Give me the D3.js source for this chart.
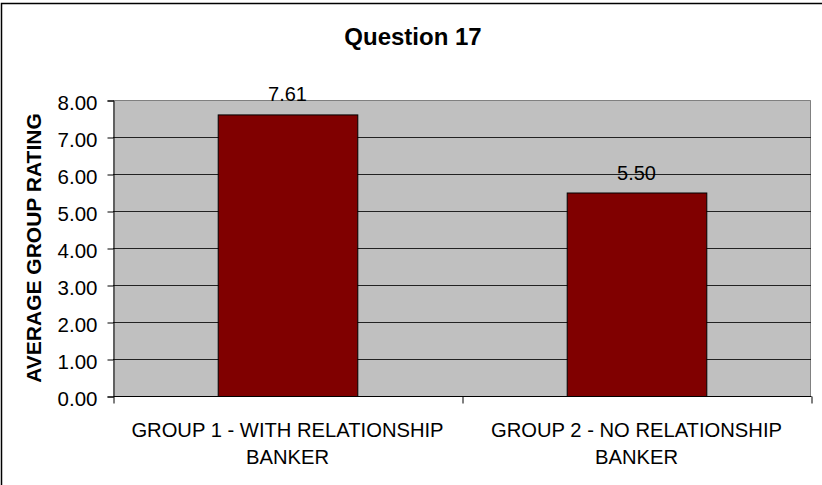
<!DOCTYPE html>
<html><head><meta charset="utf-8">
<script src="https://cdn.jsdelivr.net/npm/d3@7"></script>
<style>body{margin:0;background:#fff}svg{display:block}text{font-family:"Liberation Sans",Arial,sans-serif}</style>
</head><body>
<svg id="c" width="822" height="485"></svg>
<script>
const title = "Question 17";
const yTitle = "AVERAGE GROUP RATING";
const categories = [["GROUP 1 - WITH RELATIONSHIP","BANKER"],["GROUP 2 - NO RELATIONSHIP","BANKER"]];
const values = [7.61, 5.50];
const yTicks = [0,1,2,3,4,5,6,7,8];

const svg = d3.select("#c");
const m = {l:113, r:811, t:100, b:396};
svg.append("rect").attr("x",1.5).attr("y",3.5).attr("width",830).attr("height",500)
  .attr("fill","#fff").attr("stroke","#000").attr("stroke-width",1.5);

const x = d3.scaleBand().domain(d3.range(categories.length)).range([m.l,m.r]).paddingInner(0.6).paddingOuter(0.3);
const y = d3.scaleLinear().domain([0,8]).range([m.b,m.t]);

svg.append("rect").attr("x",m.l).attr("y",m.t).attr("width",m.r-m.l).attr("height",m.b-m.t).attr("fill","#c0c0c0");
svg.append("path").attr("d",`M${m.l},${m.t+0.5}H${m.r-0.5}V${m.b}`).attr("fill","none").attr("stroke","#808080").attr("stroke-width",1);

// gridlines
svg.append("g").selectAll("line").data(yTicks.filter(d=>d>0 && d<8)).join("line")
  .attr("x1",m.l).attr("x2",m.r).attr("y1",d=>Math.round(y(d))+0.5).attr("y2",d=>Math.round(y(d))+0.5)
  .attr("stroke","#222").attr("stroke-width",1);

// y axis
const ya = d3.axisLeft(y).tickValues(yTicks).tickFormat(d3.format(".2f")).tickSize(6).tickPadding(10);
const gy = svg.append("g").attr("transform",`translate(${m.l+0.5},0.5)`).call(ya);
gy.select(".domain").attr("stroke","#000");
gy.selectAll(".tick line").attr("stroke","#000");
gy.selectAll("text").attr("font-size",20.5).attr("fill","#000").attr("dy","0.42em");

// bars
svg.append("g").selectAll("rect").data(values).join("rect")
  .attr("x",(d,i)=>x(i)+0.5).attr("y",d=>y(d)+0.5).attr("width",x.bandwidth()).attr("height",d=>y(0)-y(d))
  .attr("fill","#800000").attr("stroke","#000").attr("stroke-width",1);

// bar labels
svg.append("g").selectAll("text").data(values).join("text")
  .attr("x",(d,i)=>x(i)+x.bandwidth()/2).attr("y",d=>y(d)-13)
  .attr("text-anchor","middle").attr("font-size",20).attr("fill","#000").text(d=>d.toFixed(2));

// x axis
const xb = d3.scaleLinear().domain([0,categories.length]).range([m.l,m.r]);
const xa = d3.axisBottom(xb).tickValues(d3.range(categories.length+1)).tickFormat("").tickSize(7);
const gx = svg.append("g").attr("transform",`translate(0.5,${m.b+0.5})`).call(xa);
gx.select(".domain").attr("stroke","#000").attr("d",`M${m.l},0H${m.r}`);
gx.selectAll(".tick line").attr("stroke","#000");

const cl = svg.append("g").selectAll("text").data(categories).join("text")
  .attr("text-anchor","middle").attr("font-size",20.2).attr("fill","#000");
cl.each(function(lines,i){
  const t = d3.select(this);
  lines.forEach((s,j)=>t.append("tspan").attr("x",x(i)+x.bandwidth()/2).attr("y",437+j*26.7).text(s));
});

// titles
svg.append("text").attr("x",413).attr("y",45).attr("text-anchor","middle")
  .attr("font-size",24).attr("font-weight","bold").text(title);
svg.append("text").attr("transform",`translate(41,${(m.t+m.b)/2}) rotate(-90)`).attr("text-anchor","middle")
  .attr("font-size",21).attr("font-weight","bold").text(yTitle);
</script>
</body></html>
